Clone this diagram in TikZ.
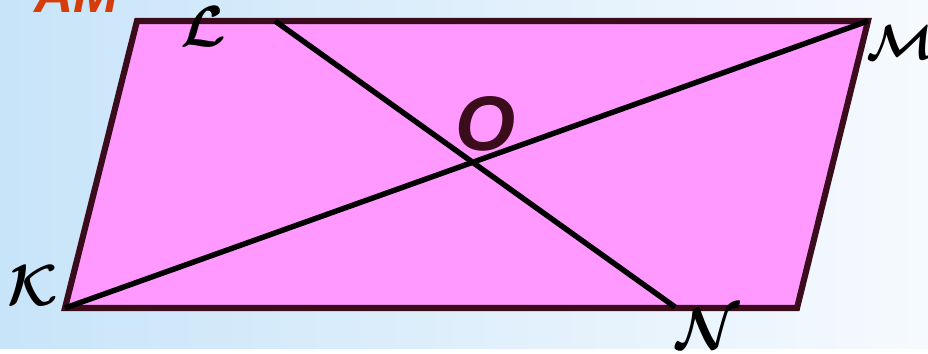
\RequirePackage{fix-cm}
\documentclass[tikz,border=0pt]{standalone}
\usepackage{amsmath}
\usepackage{fontspec}
\newfontfamily\headfont{Liberation Sans}
\usepackage{tikz}
\usetikzlibrary{positioning, calc}
\definecolor{bgleft}{RGB}{200,228,249}
\definecolor{bgright}{RGB}{246,250,254}
\definecolor{figfill}{RGB}{255,153,255}
\definecolor{figline}{RGB}{58,12,28}
\definecolor{titlered}{RGB}{214,60,10}
\tikzset{
  frame/.style={
    draw=figline, line width=3.5pt, fill=figfill, line join=miter
  },
  diag/.style={
    draw=black, line width=3.1pt
  },
  vlabel/.style={
    inner sep=0pt, font=\fontsize{33}{33}\selectfont
  },
  centrelabel/.style={
    inner sep=0pt, text=figline,
    font=\headfont\bfseries\itshape\fontsize{44}{44}\selectfont
  },
  titletext/.style={
    inner sep=0pt, anchor=base west, text=titlered,
    font=\headfont\bfseries\itshape\fontsize{31}{31}\selectfont
  }
}

\begin{document}
\begin{tikzpicture}[x=0.02cm, y=-0.02cm]
  % background
  \clip (0,0) rectangle (928,354);
  \shade[left color=bgleft, right color=bgright] (0,0) rectangle (928,349);
  \fill[white] (0,349) rectangle (928,354);
  \node[titletext] (title) at (34,13) {AM};

  % vertices
  \coordinate (K) at (65,308);
  \coordinate (P) at (137,21);
  \coordinate (M) at (868,21);
  \coordinate (Q) at (797,308);
  \coordinate (L) at (275,21);
  \coordinate (N) at (675,307);

  \draw[frame] (K) -- (P) -- (M) -- (Q) -- cycle;
  \draw[diag] (K) -- (M);
  \draw[diag] (L) -- (N);

  % labels
  \node[vlabel] (lK) at (33,286) {$\boldsymbol{\mathcal{K}}$};
  \node[vlabel] (lL) at (203,27) {$\boldsymbol{\mathcal{L}}$};
  \node[vlabel, font=\fontsize{28}{28}\selectfont] (lM) at (900,43) {$\boldsymbol{\mathcal{M}}$};
  \node[vlabel] (lN) at (708,329) {$\boldsymbol{\mathcal{N}}$};
  \node[centrelabel] (O) at (486,124) {O};
\end{tikzpicture}
\end{document}
